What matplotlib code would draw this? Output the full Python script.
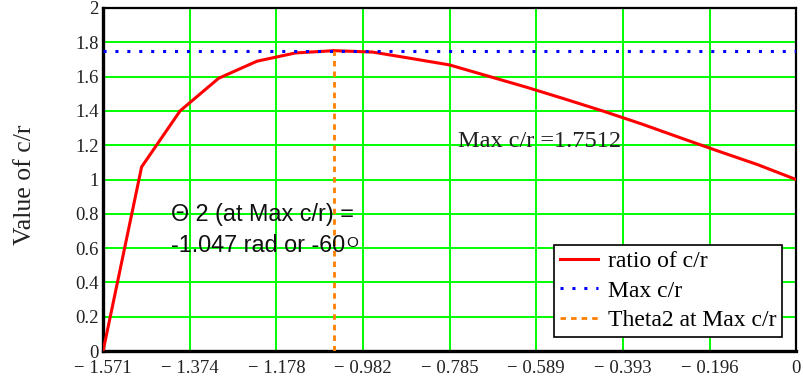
import numpy as np
import matplotlib
matplotlib.use("Agg")
import matplotlib.pyplot as plt
from matplotlib.ticker import FixedLocator, FuncFormatter

# crank angle theta2 (degrees) and the resulting c/r ratio
theta2_deg = [-90, -85, -80, -75, -70, -65, -60, -55, -50, -45,
              -40, -35, -30, -25, -20, -15, -10, -5, 0]
ratio_cr = [0.0, 1.073, 1.40, 1.59, 1.69, 1.738, 1.7512, 1.743, 1.706, 1.668,
            1.603, 1.538, 1.469, 1.398, 1.323, 1.243, 1.164, 1.087, 1.0]

max_cr = 1.7512
theta2_at_max = -1.047

x_ticks = [-1.571, -1.374, -1.178, -0.982, -0.785, -0.589, -0.393, -0.196, 0.0]
y_ticks = [0, 0.2, 0.4, 0.6, 0.8, 1.0, 1.2, 1.4, 1.6, 1.8, 2.0]

theta2_rad = np.radians(theta2_deg)

W, H = 804, 379
fig = plt.figure(figsize=(W / 100, H / 100), dpi=100)
ax = fig.add_axes([103 / W, 28 / H, 693 / W, 343 / H])

serif = 'Liberation Serif'
sans = 'Liberation Sans'

ax.plot(theta2_rad, ratio_cr, color='#ff0000', lw=2.2, zorder=3,
        label='ratio of c/r', solid_joinstyle='miter')
ax.plot([x_ticks[0], 0], [max_cr, max_cr], color='#0000ff', lw=2.2,
        linestyle=(0, (1, 2.9)), zorder=4, label='Max c/r')
ax.plot([theta2_at_max, theta2_at_max], [0, max_cr], color='#ff8000', lw=2.0,
        linestyle=(0, (2.0, 1.8)), zorder=4, label='Theta2 at Max c/r')

ax.set_xlim(x_ticks[0], 0)
ax.set_ylim(0, 2)

ax.xaxis.set_major_locator(FixedLocator(x_ticks))
ax.yaxis.set_major_locator(FixedLocator(y_ticks))


def fmt_x(v, pos):
    if abs(v) < 1e-9:
        return '0'
    return '\u2212 %.3f' % abs(v)


def fmt_y(v, pos):
    return '%g' % v


ax.xaxis.set_major_formatter(FuncFormatter(fmt_x))
ax.yaxis.set_major_formatter(FuncFormatter(fmt_y))
ax.tick_params(axis='both', length=0, labelsize=13.5, colors='#222222')
ax.tick_params(axis='x', pad=6.5)
ax.tick_params(axis='y', pad=3)
for lab in ax.get_xticklabels() + ax.get_yticklabels():
    lab.set_fontfamily(serif)

ax.grid(True, color='#00ff00', lw=1.4, zorder=1)
ax.set_axisbelow(True)

for side in ('left', 'bottom'):
    ax.spines[side].set_linewidth(2.4)
for side in ('top', 'right'):
    ax.spines[side].set_linewidth(1.6)
for sp in ax.spines.values():
    sp.set_color('black')

fig.text(25 / W, 1 - 185 / H, 'Value of c/r', rotation=90,
         ha='center', va='center', fontsize=18.5, family=serif, color='#222222')

ax.text(-0.766, 1.19, 'Max c/r =1.7512', fontsize=17.5, family=serif,
        ha='left', va='baseline', color='#222222', zorder=5)

ax.text(-1.417, 0.758, '\u0398 2 (at Max c/r) =', fontsize=16.8, family=sans,
        ha='left', va='baseline', color='#111111', zorder=5)
angle_txt = ax.text(-1.417, 0.577, '-1.047 rad or -60', fontsize=16.8,
                    family=sans, ha='left', va='baseline', color='#111111',
                    zorder=5)

# small raised "O" used as the degree mark after -60
renderer = fig.canvas.get_renderer()
bb = angle_txt.get_window_extent(renderer)
base_px = ax.transData.transform((-1.417, 0.577))[1]
fig.text((bb.x1 + 1) / W, (base_px + 5.5) / H, 'O', fontsize=11,
         family=sans, color='#111111', ha='left', va='baseline', zorder=5)

leg = ax.legend(loc='lower right', bbox_to_anchor=(0.98, 0.041),
                borderaxespad=0, fancybox=False, framealpha=1,
                edgecolor='black', prop={'family': serif, 'size': 17},
                labelspacing=0.33, handlelength=1.6, handletextpad=0.42,
                borderpad=0.25)
leg.get_frame().set_linewidth(1.2)
leg.set_zorder(6)

fig.savefig('out.png', dpi=100)
